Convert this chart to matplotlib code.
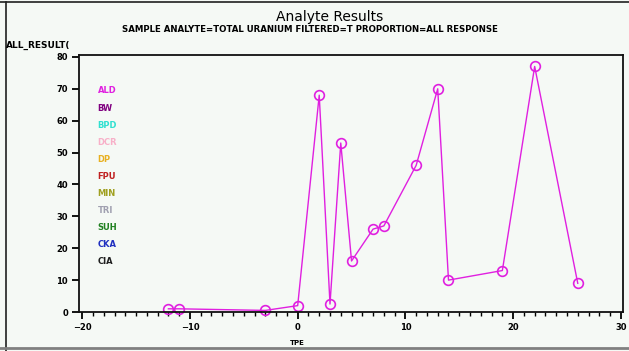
import matplotlib
matplotlib.use("Agg")
import matplotlib.pyplot as plt
from matplotlib.lines import Line2D
from matplotlib.ticker import MultipleLocator

# Data
x_vals = [-12, -11, -3, 0, 2, 3, 4, 5, 7, 8, 11, 13, 14, 19, 22, 26]
y_vals = [1, 1, 0.5, 2, 68, 2.5, 53, 16, 26, 27, 46, 70, 10, 13, 77, 9]
legend_names = ["ALD", "BW", "BPD", "DCR", "DP", "FPU", "MIN", "TRI", "SUH", "CKA", "CIA"]
legend_colors = ["#e020e0", "#800080", "#30e0d0", "#f8b0c8", "#e8b020", "#c02020",
                 "#a0a020", "#a0a0b0", "#208020", "#2030c0", "#202020"]
title = "Analyte Results"
subtitle = "SAMPLE ANALYTE=TOTAL URANIUM FILTERED=T PROPORTION=ALL RESPONSE"
ylabel = "ALL_RESULT("
xlabel = "TPE"

bg = "#f5f9f5"
fig = plt.figure(figsize=(6.29, 3.51), dpi=100, facecolor=bg)
left_px, right_px, top_px, bot_px = 79, 623, 55, 312
ax = fig.add_axes([left_px/629, 1-bot_px/351, (right_px-left_px)/629, (bot_px-top_px)/351],
                  facecolor=bg)

ax.plot(x_vals, y_vals, color="#e020e0", lw=1.0, marker="o", ms=7,
        mfc="none", mec="#e020e0", mew=1.2, clip_on=False)

ax.set_xlim(-20.3, 30.2)
ax.set_ylim(0, 80.6)
ax.xaxis.set_major_locator(MultipleLocator(10))
ax.xaxis.set_minor_locator(MultipleLocator(1))
ax.yaxis.set_major_locator(MultipleLocator(10))
ax.tick_params(axis="both", which="major", direction="out", length=5, width=1.3,
               labelsize=6, pad=3)
ax.tick_params(axis="x", which="minor", direction="out", length=3, width=1.0)
for lab in ax.get_xticklabels() + ax.get_yticklabels():
    lab.set_fontweight("bold")
for s in ax.spines.values():
    s.set_linewidth(1.3)
    s.set_color("#101010")

# legend as colored text
for i, (n, c) in enumerate(zip(legend_names, legend_colors)):
    ax.text(0.034, 0.86 - i * 0.0665, n, color=c, fontsize=6, fontweight="bold",
            transform=ax.transAxes, va="center", ha="left")

fig.text(330/629, 1-17/351, title, ha="center", va="center", fontsize=10)
fig.text(310/629, 1-30/351, subtitle, ha="center", va="center", fontsize=6.2, fontweight="bold")
fig.text(6/629, 1-45/351, ylabel, ha="left", va="center", fontsize=6.5, fontweight="bold")
fig.text(297/629, 1-343/351, xlabel, ha="center", va="center", fontsize=5, fontweight="bold")

# outer frame lines
fig.add_artist(Line2D([6/629, 6/629], [0, 1-2/351], transform=fig.transFigure, color="#202020", lw=1.2))
fig.add_artist(Line2D([0, 1], [1-2/351, 1-2/351], transform=fig.transFigure, color="#202020", lw=1.2))
fig.add_artist(Line2D([0, 1], [1-348/351, 1-348/351], transform=fig.transFigure, color="#808080", lw=2))

fig.savefig("out.png", dpi=100, facecolor=bg)
